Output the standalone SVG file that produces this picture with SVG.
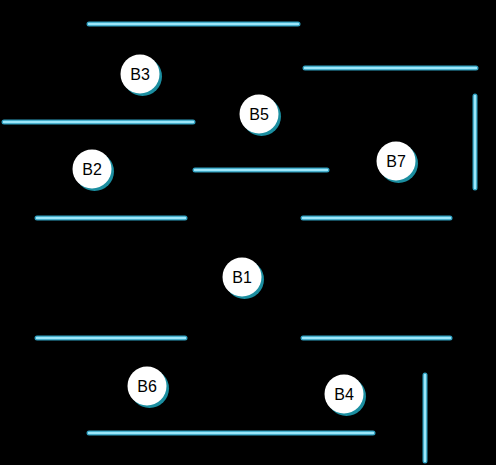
<svg xmlns="http://www.w3.org/2000/svg" width="496" height="465" viewBox="0 0 496 465">
<style>
.wo{stroke:#2c9dbd;stroke-width:5;stroke-linecap:round;fill:none}
.wi{stroke:#9be6fa;stroke-width:2.5;stroke-linecap:round;fill:none}
.sh{fill:#1b8ea0}
.nd{fill:#ffffff}
.lb{font-family:"Liberation Sans",Arial,sans-serif;font-size:16px;fill:#000;text-anchor:middle;dominant-baseline:central}
</style>
<defs>
<g id="walls">
<line x1="89" y1="24" x2="298" y2="24"/>
<line x1="305" y1="68" x2="476" y2="68"/>
<line x1="4" y1="122" x2="193" y2="122"/>
<line x1="195" y1="170" x2="327" y2="170"/>
<line x1="37" y1="218" x2="185" y2="218"/>
<line x1="303" y1="218" x2="450" y2="218"/>
<line x1="37" y1="338" x2="185" y2="338"/>
<line x1="303" y1="338" x2="450" y2="338"/>
<line x1="89" y1="433" x2="373" y2="433"/>
<line x1="475" y1="96" x2="475" y2="188"/>
<line x1="425" y1="375" x2="425" y2="461"/>
</g>
</defs>
<rect width="496" height="465" fill="#000"/>
<g id="connectors">
<use href="#walls" class="wo"/>
<use href="#walls" class="wi"/>
</g>
<g id="B3"><circle class="sh" cx="142.5" cy="76.5" r="19.5"/><circle class="nd" cx="140" cy="74" r="19.5"/><text class="lb" x="140" y="74">B3</text></g>
<g id="B5"><circle class="sh" cx="261.5" cy="116.5" r="19.5"/><circle class="nd" cx="259" cy="114" r="19.5"/><text class="lb" x="259" y="114">B5</text></g>
<g id="B2"><circle class="sh" cx="94.5" cy="171.5" r="19.5"/><circle class="nd" cx="92" cy="169" r="19.5"/><text class="lb" x="92" y="169">B2</text></g>
<g id="B7"><circle class="sh" cx="398.5" cy="163.5" r="19.5"/><circle class="nd" cx="396" cy="161" r="19.5"/><text class="lb" x="396" y="161">B7</text></g>
<g id="B1"><circle class="sh" cx="244.5" cy="279.5" r="19.5"/><circle class="nd" cx="242" cy="277" r="19.5"/><text class="lb" x="242" y="277">B1</text></g>
<g id="B6"><circle class="sh" cx="149.5" cy="388.5" r="19.5"/><circle class="nd" cx="147" cy="386" r="19.5"/><text class="lb" x="147" y="386">B6</text></g>
<g id="B4"><circle class="sh" cx="346.5" cy="396.5" r="19.5"/><circle class="nd" cx="344" cy="394" r="19.5"/><text class="lb" x="344" y="394">B4</text></g>
</svg>
